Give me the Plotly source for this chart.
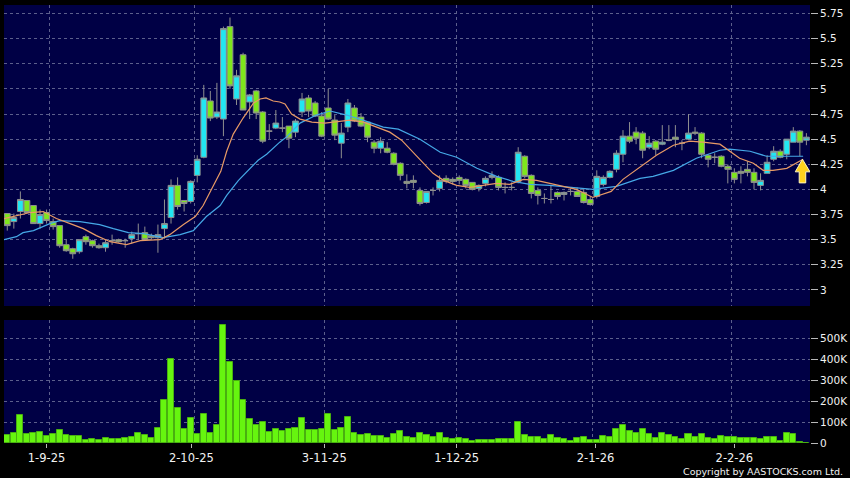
import plotly.graph_objects as go

opens = [3.76,3.68,3.78,3.89,3.84,3.66,3.77,3.68,3.64,3.45,3.41,3.38,3.53,3.49,3.44,3.42,3.49,3.50,3.49,3.51,3.56,3.57,3.54,3.52,3.61,3.72,4.04,3.89,3.88,4.14,4.32,4.88,4.72,4.70,5.62,4.90,5.34,4.87,4.98,4.77,4.58,4.61,
4.61,4.63,4.57,4.77,4.91,4.86,4.73,4.81,4.69,4.46,4.62,4.81,4.72,4.67,4.47,4.41,4.41,4.36,4.26,4.08,4.09,3.99,3.87,3.99,4.01,4.11,4.10,4.12,4.10,4.07,4.01,4.06,4.12,4.12,4.02,4.02,4.08,4.33,4.14,3.99,3.91,
3.90,3.97,3.95,3.98,3.98,3.97,3.90,3.93,4.05,4.12,4.20,4.35,4.53,4.57,4.56,4.42,4.48,4.45,4.49,4.52,4.46,4.50,4.57,4.56,4.34,4.32,4.33,4.23,4.17,4.18,4.20,4.17,4.04,4.16,4.30,4.38,4.35,4.47,4.58,4.49]
closes = [3.64,3.72,3.90,3.77,3.66,3.75,3.69,3.63,3.44,3.39,3.36,3.50,3.48,3.44,3.42,3.47,3.49,3.48,3.49,3.55,3.56,3.50,3.52,3.55,3.66,4.04,3.83,3.86,4.08,4.30,4.91,4.71,4.77,5.60,5.03,5.13,4.79,4.94,4.76,4.48,4.58,4.66,
4.61,4.51,4.68,4.90,4.78,4.73,4.53,4.70,4.54,4.56,4.86,4.68,4.63,4.52,4.41,4.48,4.37,4.25,4.14,4.06,4.07,3.86,3.98,3.99,4.09,4.08,4.08,4.09,4.04,4.00,4.04,4.11,4.14,4.02,4.02,4.02,4.37,4.13,3.96,3.94,3.91,
3.90,3.93,3.97,3.98,3.93,3.87,3.85,4.13,4.12,4.18,4.36,4.53,4.48,4.51,4.39,4.46,4.40,4.47,4.49,4.50,4.46,4.56,4.56,4.35,4.30,4.32,4.23,4.20,4.10,4.16,4.17,4.07,4.09,4.27,4.38,4.32,4.50,4.58,4.47,4.52]
highs = [3.76,3.76,3.98,3.89,3.84,3.80,3.80,3.71,3.64,3.50,3.42,3.50,3.55,3.50,3.46,3.50,3.55,3.51,3.51,3.58,3.66,3.63,3.56,3.65,3.90,4.10,4.12,3.89,4.09,4.34,5.04,4.98,5.06,5.62,5.71,5.19,5.36,4.95,4.99,4.78,4.65,4.79,
4.72,4.63,4.70,4.96,4.94,4.88,4.77,5.00,4.74,4.66,4.90,4.84,4.76,4.68,4.49,4.52,4.47,4.37,4.27,4.15,4.14,4.02,3.98,4.02,4.14,4.14,4.12,4.14,4.11,4.07,4.05,4.13,4.18,4.14,4.07,4.07,4.42,4.34,4.15,4.02,3.96,
4.04,3.98,3.98,4.01,4.02,4.01,3.93,4.19,4.14,4.19,4.39,4.59,4.67,4.62,4.58,4.53,4.49,4.64,4.64,4.64,4.49,4.75,4.62,4.57,4.35,4.36,4.34,4.25,4.21,4.23,4.28,4.21,4.16,4.34,4.43,4.40,4.50,4.62,4.59,4.56]
lows = [3.59,3.61,3.71,3.77,3.66,3.61,3.66,3.60,3.42,3.38,3.31,3.36,3.45,3.42,3.41,3.38,3.45,3.47,3.42,3.46,3.50,3.50,3.50,3.37,3.51,3.66,3.80,3.78,3.86,4.07,4.31,4.68,4.70,4.53,5.00,4.84,4.79,4.70,4.70,4.46,4.50,4.60,
4.57,4.41,4.52,4.72,4.72,4.72,4.52,4.69,4.49,4.31,4.57,4.67,4.62,4.47,4.36,4.36,4.36,4.24,4.09,4.01,4.01,3.84,3.86,3.94,3.98,4.06,4.05,4.05,4.01,3.99,3.98,4.03,4.10,3.99,3.96,3.99,4.06,4.11,3.91,3.85,3.86,
3.86,3.90,3.89,3.94,3.93,3.86,3.84,3.91,4.03,4.11,4.17,4.27,4.46,4.45,4.31,4.40,4.34,4.44,4.48,4.42,4.39,4.49,4.54,4.31,4.22,4.26,4.22,4.06,4.06,4.06,4.13,4.00,3.99,4.16,4.28,4.31,4.30,4.47,4.33,4.44]
volumes = [37,48,132,44,48,51,32,43,63,37,35,32,16,19,16,25,19,19,22,29,49,37,25,71,206,400,165,65,117,44,137,46,84,562,387,295,205,113,84,102,52,68,
55,66,72,119,64,61,67,139,62,72,123,50,39,44,34,33,25,42,58,28,23,48,36,27,47,22,17,22,17,11,12,16,16,20,17,17,100,37,31,27,20,36,22,
17,9,22,27,14,16,34,31,67,87,59,50,69,44,25,50,37,27,20,44,31,41,25,17,33,30,30,22,22,25,17,30,27,11,48,45,6,2]

ma_fast_x = [-0.5,1.9,3.5,5.5,7.5,9.6,11.6,13.6,15.7,18.2,20.3,23.3,24.8,26.9,28.7,29.9,31.5,32.6,33.5,34.5,36.0,37.6,38.6,39.5,40.6,41.6,42.4,43.4,44.7,46.5,48.5,50.0,52.3,54.4,56.4,58.4,60.2,62,63.5,65,66.6,68.6,70.6,72.7,74.7,76.7,78.8,80.8,82.8,84.4,86.9,89.4,92.2,94,96.6,99.1,101.7,104.2,106.2,108.8,111.8,113.9,115.4,116.9,119,121.5]
ma_fast = [3.71,3.745,3.77,3.78,3.71,3.66,3.61,3.54,3.48,3.45,3.49,3.50,3.55,3.65,3.73,3.84,4.04,4.18,4.38,4.55,4.71,4.86,4.90,4.91,4.88,4.87,4.85,4.75,4.70,4.67,4.66,4.67,4.69,4.67,4.62,4.57,4.49,4.37,4.26,4.16,4.09,4.04,4.02,4.04,4.06,4.05,4.10,4.09,4.06,4.03,4.00,3.92,3.98,4.10,4.22,4.34,4.44,4.48,4.47,4.45,4.31,4.26,4.19,4.19,4.21,4.30]
ma_slow_x = [-0.5,1.4,2.4,4,6.5,8,11.1,14.1,16.2,18.5,20.8,23.8,26.4,28.4,30.4,32.5,33.5,35.3,38.3,39.6,41.6,42.6,44.7,47.2,49.3,51.8,54.3,57.4,59.7,63,66.1,68.6,71.7,74.7,77.2,79.8,82.8,86.4,89.4,93,96.6,98.6,101.7,105.2,108.8,110.3,113.4,115.9,118.5,121.5]
ma_slow = [3.50,3.53,3.57,3.59,3.66,3.69,3.68,3.65,3.61,3.57,3.56,3.52,3.55,3.59,3.73,3.84,3.94,4.09,4.29,4.35,4.47,4.52,4.66,4.74,4.78,4.74,4.69,4.62,4.60,4.50,4.37,4.32,4.21,4.13,4.08,4.05,4.04,4.02,4.00,4.03,4.11,4.13,4.19,4.31,4.39,4.40,4.38,4.33,4.33,4.33]

price_ticks = [3,3.25,3.5,3.75,4,4.25,4.5,4.75,5,5.25,5.5,5.75]
price_labels = ["3","3.25","3.5","3.75","4","4.25","4.5","4.75","5","5.25","5.5","5.75"]
volume_ticks = [0,100,200,300,400,500]
volume_labels = ["0","100K","200K","300K","400K","500K"]
date_ticks = [6,28.1,48.4,68.6,89.8,111]
date_grid = [6.5,28.6,48.5,68.6,89.4,110.6]
date_labels = ["1-9-25","2-10-25","3-11-25","1-12-25","2-1-26","2-2-26"]

BG = "#000000"; PANEL = "#000045"; GRID = "#5c5f8c"; WICK = "#8f8f8f"
UP = "#22e6f2"; DOWN = "#7ee61c"; VOL = "#66f50f"
idx = list(range(len(opens)))

fig = go.Figure()
fig.add_trace(go.Candlestick(x=idx, open=opens, high=highs, low=lows, close=closes, xaxis="x", yaxis="y",
    increasing=dict(fillcolor=UP, line=dict(color=WICK, width=1)),
    decreasing=dict(fillcolor=DOWN, line=dict(color=WICK, width=1)),
    whiskerwidth=0, hoverinfo="skip", showlegend=False))
fig.add_trace(go.Scatter(x=ma_slow_x, y=ma_slow, mode="lines", line=dict(color="#45a8e6", width=1.2), xaxis="x", yaxis="y", showlegend=False))
fig.add_trace(go.Scatter(x=ma_fast_x, y=ma_fast, mode="lines", line=dict(color="#e89a66", width=1.2), xaxis="x", yaxis="y", showlegend=False))
fig.add_trace(go.Bar(x=idx, y=volumes, marker=dict(color=VOL, line=dict(color="#49b010", width=1)), width=0.92, xaxis="x2", yaxis="y2", showlegend=False))

axis_x = dict(range=[-0.5, 122.55], showgrid=False, zeroline=False, showline=False, fixedrange=True)
TICKFONT = dict(family="DejaVu Sans", size=11.5, color="#f2f2f2")
YFONT = dict(family="DejaVu Sans", size=10.5, color="#f2f2f2")
grid_y = dict(showgrid=True, gridcolor=GRID, griddash="3px,3px", gridwidth=1, zeroline=False, showline=False,
              side="right", ticks="outside", ticklen=7, tickcolor="#b8b8b8", tickwidth=1, tickfont=YFONT)
minor_grid = dict(tickvals=date_grid, showgrid=True, gridcolor=GRID, griddash="3px,3px", gridwidth=1, ticks="")

fig.update_layout(
    width=850, height=478, autosize=False, margin=dict(l=4, r=40, t=5, b=35, autoexpand=False),
    paper_bgcolor=BG, plot_bgcolor=PANEL, showlegend=False, bargap=0, boxgap=0.12, boxgroupgap=0,
    xaxis=dict(axis_x, domain=[0,1], anchor="y", rangeslider=dict(visible=False), showticklabels=False, ticks="", minor=minor_grid),
    xaxis2=dict(axis_x, domain=[0,1], anchor="y2", tickmode="array", tickvals=date_ticks, ticktext=date_labels,
                ticks="outside", ticklen=4, tickcolor="#b8b8b8", tickfont=TICKFONT, minor=minor_grid),
    yaxis=dict(grid_y, domain=[137/438, 1], range=[2.84, 5.835], tickmode="array", tickvals=price_ticks, ticktext=price_labels, anchor="x"),
    yaxis2=dict(grid_y, domain=[0, 123/438], range=[0, 587], tickmode="array", tickvals=volume_ticks, ticktext=volume_labels, anchor="x2"),
    annotations=[dict(text="Copyright by AASTOCKS.com Ltd.", x=1.0, xshift=35, y=-0.064, xref="paper", yref="paper", xanchor="right", yanchor="middle",
              showarrow=False, font=dict(family="DejaVu Sans", size=9.5, color="#f2f2f2"))],
    shapes=[dict(type="path", xref="x", yref="y", layer="above",
                 path="M 121.4 4.30 L 122.55 4.175 L 121.9 4.175 L 121.9 4.065 L 120.9 4.065 L 120.9 4.175 L 120.3 4.175 Z",
                 fillcolor="#ffd21e", line=dict(color="#fff6c0", width=1))],
)
fig.write_html("out.html", config=dict(displayModeBar=False), post_script="document.body.style.margin='0';document.body.style.background='#000';")
